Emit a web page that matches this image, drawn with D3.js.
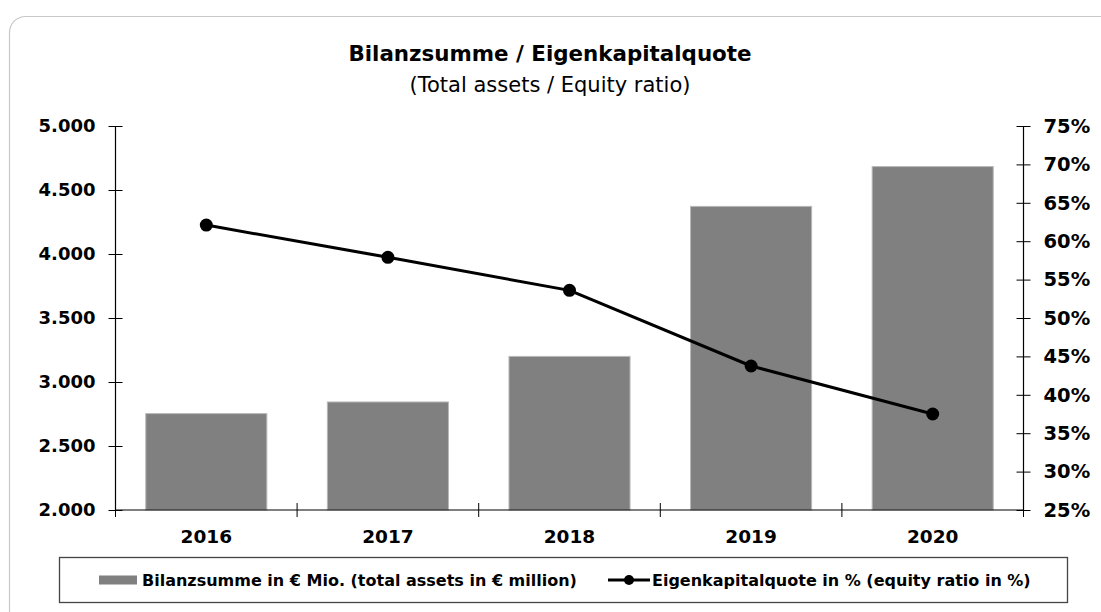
<!DOCTYPE html>
<html>
<head>
<meta charset="utf-8">
<script src="https://cdn.jsdelivr.net/npm/d3@7"></script>
<style>
  html, body { margin: 0; padding: 0; background: #fff; }
  svg { display: block; }
  text { font-family: "DejaVu Sans", Verdana, sans-serif; fill: #000; }
</style>
</head>
<body>
<svg id="chart" width="1101" height="612"></svg>
<script>
const years = ["2016", "2017", "2018", "2019", "2020"];
const totalAssets = [2753, 2844, 3200, 4372, 4683];
const equityRatio = [0.621, 0.579, 0.536, 0.4375, 0.375];
const leftTicks = [2000, 2500, 3000, 3500, 4000, 4500, 5000];
const rightTicks = [0.25, 0.30, 0.35, 0.40, 0.45, 0.50, 0.55, 0.60, 0.65, 0.70, 0.75];
const titleMain = "Bilanzsumme / Eigenkapitalquote";
const titleSub = "(Total assets / Equity ratio)";
const legendBar = "Bilanzsumme in \u20AC Mio. (total assets in \u20AC million)";
const legendLine = "Eigenkapitalquote in % (equity ratio in %)";

const condensed = '"DejaVu Sans Condensed", "DejaVu Sans", sans-serif';
const svg = d3.select("#chart");

// container
svg.append("rect").attr("x", 9.5).attr("y", 16.5).attr("width", 1110).attr("height", 610)
  .attr("rx", 16).attr("ry", 16).attr("fill", "#fff").attr("stroke", "#c8c8c8").attr("stroke-width", 1.2);

const plotL = 115.5, plotR = 1023.5, plotT = 126, plotB = 510;

const x = d3.scaleBand().domain(years).range([plotL, plotR]).paddingInner(1/3).paddingOuter(1/6);
const yL = d3.scaleLinear().domain([2000, 5000]).range([plotB, plotT]);
const yR = d3.scaleLinear().domain([0.25, 0.75]).range([plotB, plotT]);

// title
svg.append("text").attr("x", 550).attr("y", 61).attr("text-anchor", "middle")
  .attr("font-size", 21.4).attr("font-weight", "bold").text(titleMain);
svg.append("text").attr("x", 550).attr("y", 92).attr("text-anchor", "middle")
  .attr("font-size", 21).text(titleSub);

// bars
svg.append("g").selectAll("rect").data(years).join("rect")
  .attr("x", d => x(d))
  .attr("width", x.bandwidth())
  .attr("y", (d, i) => yL(totalAssets[i]))
  .attr("height", (d, i) => plotB - yL(totalAssets[i]))
  .attr("fill", "#808080").attr("stroke", "#b8b8b8").attr("stroke-width", 1);

// left axis
const gL = svg.append("g").attr("transform", `translate(${plotL},0)`)
  .call(d3.axisLeft(yL).tickValues(leftTicks).tickSize(7).tickPadding(13)
    .tickFormat(d => d3.format(",")(d).replace(/,/g, ".")));
gL.select(".domain").attr("d", `M0,${plotT}V${plotB}`).attr("stroke", "#000").attr("stroke-width", 1.2);
gL.selectAll(".tick line").attr("x1", 7).attr("x2", -7).attr("stroke", "#000");
gL.selectAll(".tick text").attr("font-size", 18).attr("font-weight", "bold").attr("font-family", condensed);

// right axis
const gR = svg.append("g").attr("transform", `translate(${plotR},0)`)
  .call(d3.axisRight(yR).tickValues(rightTicks).tickSize(7).tickPadding(13)
    .tickFormat(d3.format(".0%")));
gR.select(".domain").attr("d", `M0,${plotT}V${plotB}`).attr("stroke", "#000").attr("stroke-width", 1.2);
gR.selectAll(".tick line").attr("x1", -7).attr("x2", 7).attr("stroke", "#000");
gR.selectAll(".tick text").attr("font-size", 19.5).attr("font-weight", "bold").attr("font-family", condensed);

// bottom axis
const gB = svg.append("g");
gB.append("line").attr("x1", plotL).attr("x2", plotR).attr("y1", plotB).attr("y2", plotB)
  .attr("stroke", "#000").attr("stroke-width", 1.2);
const boundaries = d3.range(years.length + 1).map(i => plotL + i * x.step());
gB.selectAll("line.bt").data(boundaries).join("line").attr("class", "bt")
  .attr("x1", d => d).attr("x2", d => d).attr("y1", plotB - 7).attr("y2", plotB + 7)
  .attr("stroke", "#000");
gB.selectAll("text").data(years).join("text")
  .attr("x", d => x(d) + x.bandwidth() / 2).attr("y", 543)
  .attr("text-anchor", "middle").attr("font-size", 18.5).attr("font-weight", "bold")
  .attr("font-family", condensed).text(d => d);

// line
const pts = years.map((d, i) => [x(d) + x.bandwidth() / 2, yR(equityRatio[i])]);
svg.append("path").attr("d", d3.line()(pts)).attr("fill", "none")
  .attr("stroke", "#000").attr("stroke-width", 3).attr("stroke-linejoin", "round");
svg.append("g").selectAll("circle").data(pts).join("circle")
  .attr("cx", d => d[0]).attr("cy", d => d[1]).attr("r", 6.5).attr("fill", "#000");

// legend
svg.append("rect").attr("x", 59.5).attr("y", 557.5).attr("width", 1008).attr("height", 45)
  .attr("fill", "#fff").attr("stroke", "#444").attr("stroke-width", 1.3);
svg.append("rect").attr("x", 99).attr("y", 575.5).attr("width", 38).attr("height", 9).attr("fill", "#808080");
svg.append("text").attr("x", 142).attr("y", 586).attr("font-size", 16).attr("font-weight", "bold").text(legendBar);
svg.append("line").attr("x1", 608).attr("x2", 650).attr("y1", 580).attr("y2", 580)
  .attr("stroke", "#000").attr("stroke-width", 3);
svg.append("circle").attr("cx", 629).attr("cy", 580).attr("r", 5).attr("fill", "#000");
svg.append("text").attr("x", 652).attr("y", 586).attr("font-size", 16).attr("font-weight", "bold").text(legendLine);
</script>
</body>
</html>
